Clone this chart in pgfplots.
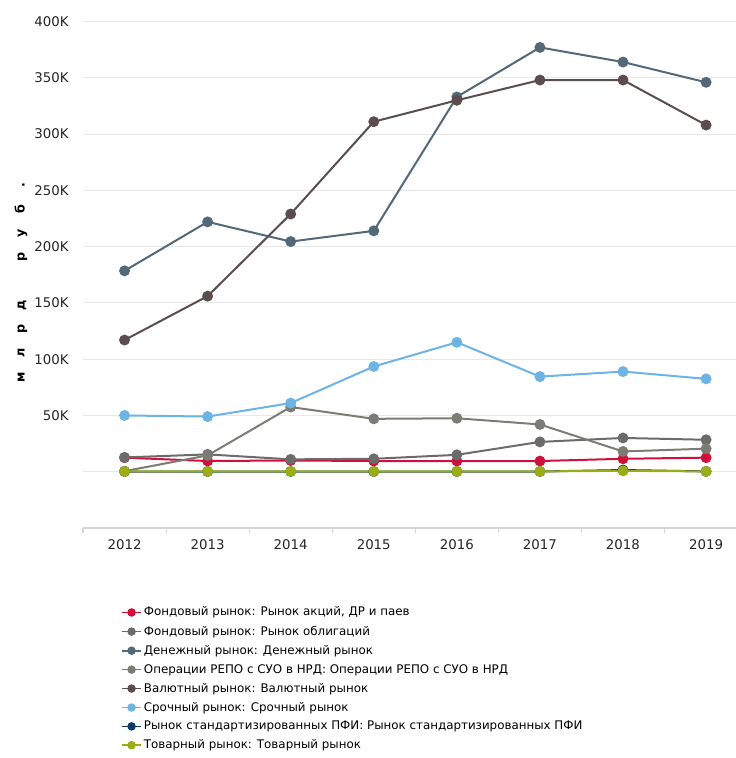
\documentclass[border=0pt]{standalone}
\usepackage{fontspec}
\setmainfont{DejaVu Sans}
\usepackage{pgfplots}
\pgfplotsset{compat=1.18}
\definecolor{cRed}{HTML}{D0103A}
\definecolor{cBond}{HTML}{6B6B6B}
\definecolor{cMoney}{HTML}{536878}
\definecolor{cRepo}{HTML}{7C7C74}
\definecolor{cFx}{HTML}{5B4D4D}
\definecolor{cDer}{HTML}{6DB3E4}
\definecolor{cPfi}{HTML}{0E3B66}
\definecolor{cCom}{HTML}{9AAC16}
\definecolor{cGrid}{HTML}{E8E8E8}
\definecolor{cAxis}{HTML}{D5D5D5}
\newcommand\ls[1]{\makebox[18pt]{#1}}
\begin{document}
\begin{tikzpicture}
\path[use as bounding box] (0,0) rectangle (552pt,568.5pt);
\begin{axis}[
  at={(62.25pt,172.5pt)}, anchor=south west,
  scale only axis, width=489.75pt, height=388.3pt,
  xmin=2011.5, xmax=2019.36, ymin=-50, ymax=410,
  axis x line*=bottom, axis y line*=left,
  x axis line style={draw=cAxis, line width=0.8pt},
  y axis line style={draw=none},
  xtick={2012,...,2019},
  xticklabels={2012,2013,2014,2015,2016,2017,2018,2019},
  major x tick style={draw=none},
  minor xtick={2011.5,2012.5,...,2019.5},
  minor x tick style={draw=cAxis, line width=0.8pt},
  minor tick length=4pt,
  tick align=outside,
  ytick={0,50,...,400},
  yticklabels={,50K,100K,150K,200K,250K,300K,350K,400K},
  ytick style={draw=none},
  ymajorgrids, grid style={draw=cGrid, line width=0.8pt},
  /pgf/number format/assume math mode=true,
  tick label style={font=\fontsize{10}{12}\selectfont, text=black!85},
  xticklabel style={yshift=-1pt},
  yticklabel style={xshift=-3pt},
  ylabel={\fontsize{9.5}{11}\selectfont\bfseries\ls{м}\ls{л}\ls{р}\ls{д}\ls{}\ls{р}\ls{у}\ls{б}\ls{.}},
  every axis y label/.style={at={(rel axis cs:-0.095,0.477)}, rotate=90, anchor=center},
  clip=false,
  every axis plot/.append style={line width=1.5pt, mark=*, mark size=3.3pt},
  legend style={at={(rel axis cs:0.052,-0.143)}, anchor=north west, draw=none,
    font=\fontsize{8.9}{11}\selectfont, row sep=3pt, legend cell align=left,
    nodes={inner sep=1.5pt}},
  legend image code/.code={\draw[line width=1.3pt, mark size=2.5pt, mark repeat=2, mark phase=2] plot coordinates {(0cm,0cm) (0.25cm,0cm) (0.5cm,0cm)};},
]
\addplot[color=cRed] coordinates {(2012,12.5)(2013,9.5)(2014,10)(2015,9.5)(2016,9.5)(2017,9.5)(2018,11.5)(2019,12.5)};
\addlegendentry{Фондовый рынок: Рынок акций, ДР и паев}
\addplot[color=cBond] coordinates {(2012,12.7)(2013,15.4)(2014,11)(2015,11.5)(2016,15)(2017,26.5)(2018,30)(2019,28.4)};
\addlegendentry{Фондовый рынок: Рынок облигаций}
\addplot[color=cMoney] coordinates {(2012,178.5)(2013,222)(2014,204.5)(2015,214)(2016,333)(2017,377)(2018,364)(2019,346)};
\addlegendentry{Денежный рынок: Денежный рынок}
\addplot[color=cRepo] coordinates {(2012,0.5)(2013,14.5)(2014,57.5)(2015,47)(2016,47.5)(2017,42)(2018,18)(2019,20.5)};
\addlegendentry{Операции РЕПО с СУО в НРД: Операции РЕПО с СУО в НРД}
\addplot[color=cFx] coordinates {(2012,117)(2013,156)(2014,229)(2015,311)(2016,330)(2017,348)(2018,348)(2019,308)};
\addlegendentry{Валютный рынок: Валютный рынок}
\addplot[color=cDer] coordinates {(2012,50)(2013,49)(2014,61)(2015,93.5)(2016,115)(2017,84.5)(2018,89)(2019,82.5)};
\addlegendentry{Срочный рынок: Срочный рынок}
\addplot[color=cPfi] coordinates {(2012,0.2)(2013,0.2)(2014,0.2)(2015,0.2)(2016,0.2)(2017,0.2)(2018,1.5)(2019,0.3)};
\addlegendentry{Рынок стандартизированных ПФИ: Рынок стандартизированных ПФИ}
\addplot[color=cCom] coordinates {(2012,0.3)(2013,0.3)(2014,0.3)(2015,0.3)(2016,0.3)(2017,0.3)(2018,0.8)(2019,0.3)};
\addlegendentry{Товарный рынок: Товарный рынок}
\end{axis}
\end{tikzpicture}
\end{document}
